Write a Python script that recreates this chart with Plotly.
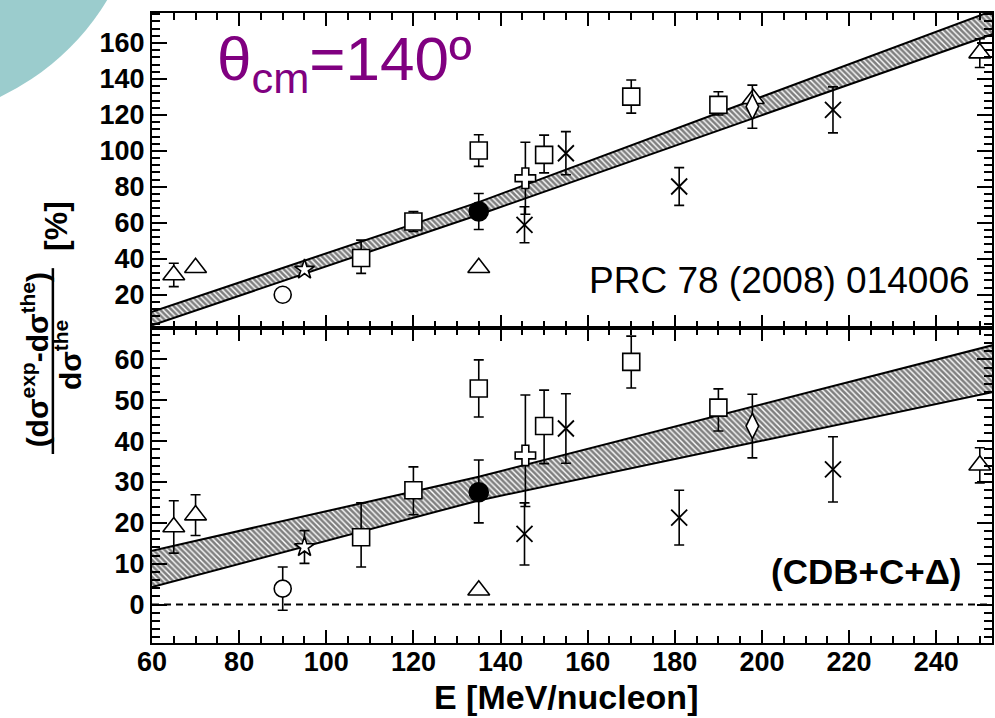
import plotly.graph_objects as go
from plotly.subplots import make_subplots

# ---------------- data: top panel ----------------
top_tri_E = [65, 70, 135, 198, 250]
top_tri_y = [31, 35, 35, 129, 154.4]
top_tri_err = [6.5, None, None, None, 8]

top_circ_E = [90]
top_circ_y = [20]

top_star_E = [95]
top_star_y = [34]

top_sq_E = [108, 120, 135, 150, 170, 190]
top_sq_y = [40.4, 60.7, 100.2, 97.8, 130.2, 125.6]
top_sq_up = [10, 5.5, 8.8, 11, 9.2, 7.3]
top_sq_dn = [8.5, 5.5, 8.8, 10, 9.2, 5.6]

top_fill_E = [135]
top_fill_y = [66.3]
top_fill_err = [10]

top_cross_E = [145.7]
top_cross_y = [84.8]
top_cross_err = [20]

top_x_E = [145.5, 155, 181, 216.3]
top_x_y = [58.9, 98.7, 80.2, 122.8]
top_x_err = [10, 12, 10.5, 12.8]

top_dia_E = [197.8]
top_dia_y = [124.6]
top_dia_err = [12]

top_band_E = [60, 135, 253]
top_band_lo = [3, 64.5, 165]
top_band_hi = [10.5, 71.5, 178]

# ---------------- data: bottom panel ----------------
bot_tri_E = [65, 70, 135, 250]
bot_tri_y = [19, 21.9, 3.5, 34.1]
bot_tri_err = [6.4, 5, None, 4.3]

bot_circ_E = [90]
bot_circ_y = [3.9]
bot_circ_err = [5.3]

bot_star_E = [95]
bot_star_y = [14.1]
bot_star_err = [4]

bot_sq_E = [108, 120, 135, 150, 170, 190]
bot_sq_y = [16.5, 28, 52.9, 43.7, 59.4, 48.2]
bot_sq_up = [8.4, 5.7, 7, 8.8, 6.3, 4.6]
bot_sq_dn = [7.3, 6, 7, 9.2, 6.4, 5.7]

bot_fill_E = [135]
bot_fill_y = [27.5]
bot_fill_up = [7.9]
bot_fill_dn = [7.5]

bot_cross_E = [145.7]
bot_cross_y = [36.5]
bot_cross_up = [14.8]
bot_cross_dn = [12.5]

bot_x_E = [145.5, 155, 181, 216.3]
bot_x_y = [17.3, 43.1, 21.3, 33.1]
bot_x_err = [7.6, 8.5, 6.7, 8]

bot_dia_E = [197.8]
bot_dia_y = [43.7]
bot_dia_err = [7.8]

bot_band_E = [60, 135, 253]
bot_band_lo = [4.3, 25.5, 52]
bot_band_hi = [13.2, 31.3, 63.5]

x_ticks = [60, 80, 100, 120, 140, 160, 180, 200, 220, 240]
top_yticks = [20, 40, 60, 80, 100, 120, 140, 160]
bot_yticks = [0, 10, 20, 30, 40, 50, 60]

FONT = "Liberation Sans"

fig = make_subplots(rows=2, cols=1, shared_xaxes=True, vertical_spacing=0)


def err(up, dn=None):
    if dn is None:
        dn = up
    return dict(type="data", symmetric=False, array=up, arrayminus=dn,
                color="black", thickness=1.6, width=5)


def add_band(E, lo, hi, row):
    fig.add_trace(go.Scatter(x=E, y=lo, mode="lines",
                             line=dict(color="black", width=2),
                             hoverinfo="skip", showlegend=False), row=row, col=1)
    fig.add_trace(go.Scatter(x=E, y=hi, mode="lines", fill="tonexty",
                             fillcolor="rgba(0,0,0,0)",
                             fillpattern=dict(shape="\\", fgcolor="black", bgcolor="white",
                                              size=4, solidity=0.65),
                             line=dict(color="black", width=2),
                             hoverinfo="skip", showlegend=False), row=row, col=1)


def add_pts(E, y, symbol, size, row, e=None, fill="white", lw=1.6):
    fig.add_trace(go.Scatter(
        x=E, y=y, mode="markers",
        marker=dict(symbol=symbol, size=size, color=fill,
                    line=dict(color="black", width=lw)),
        error_y=e, showlegend=False), row=row, col=1)


# top panel
add_band(top_band_E, top_band_lo, top_band_hi, 1)
add_pts(top_tri_E, top_tri_y, "triangle-up", 19, 1, err(top_tri_err))
add_pts(top_circ_E, top_circ_y, "circle", 17, 1)
add_pts(top_star_E, top_star_y, "star", 15, 1)
add_pts(top_sq_E, top_sq_y, "square", 17, 1, err(top_sq_up, top_sq_dn))
add_pts(top_cross_E, top_cross_y, "cross", 17, 1, err(top_cross_err))
add_pts(top_x_E, top_x_y, "x-thin", 16, 1, err(top_x_err), fill="black", lw=1.8)
add_pts(top_dia_E, top_dia_y, "diamond-tall", 18, 1, err(top_dia_err))
add_pts(top_fill_E, top_fill_y, "circle", 19, 1, err(top_fill_err), fill="black")

# bottom panel
add_band(bot_band_E, bot_band_lo, bot_band_hi, 2)
add_pts(bot_tri_E, bot_tri_y, "triangle-up", 19, 2, err(bot_tri_err))
add_pts(bot_circ_E, bot_circ_y, "circle", 17, 2, err(bot_circ_err))
add_pts(bot_star_E, bot_star_y, "star", 15, 2, err(bot_star_err))
add_pts(bot_sq_E, bot_sq_y, "square", 17, 2, err(bot_sq_up, bot_sq_dn))
add_pts(bot_cross_E, bot_cross_y, "cross", 17, 2, err(bot_cross_up, bot_cross_dn))
add_pts(bot_x_E, bot_x_y, "x-thin", 16, 2, err(bot_x_err), fill="black", lw=1.8)
add_pts(bot_dia_E, bot_dia_y, "diamond-tall", 18, 2, err(bot_dia_err))
add_pts(bot_fill_E, bot_fill_y, "circle", 19, 2, err(bot_fill_up, bot_fill_dn), fill="black")

tickfont = dict(family=FONT, size=27, color="black", weight="bold")
axis_common = dict(showline=True, linecolor="black", linewidth=2, mirror="ticks",
                   ticks="inside", tickcolor="black", tickwidth=2,
                   showgrid=False, zeroline=False, tickfont=tickfont, automargin=False)

fig.update_xaxes(range=[60, 252.8], tickvals=x_ticks, ticklen=13, ticklabelstandoff=-6,
                 minor=dict(dtick=5, tick0=60, ticklen=7, tickwidth=1.5, ticks="inside",
                            tickcolor="black", showgrid=False),
                 **axis_common)
fig.update_xaxes(showticklabels=False, row=1, col=1)
fig.update_xaxes(showticklabels=True, row=2, col=1)

fig.update_yaxes(range=[1.5, 176.7], tickvals=top_yticks, ticklen=15,
                 minor=dict(dtick=4, tick0=0, ticklen=8, tickwidth=1.5, ticks="inside",
                            tickcolor="black", showgrid=False),
                 row=1, col=1, **axis_common)
fig.update_yaxes(range=[-9.4, 67.7], tickvals=bot_yticks, ticklen=15,
                 minor=dict(dtick=2, tick0=0, ticklen=8, tickwidth=1.5, ticks="inside",
                            tickcolor="black", showgrid=False),
                 row=2, col=1, **axis_common)

# dashed zero line in bottom panel
fig.add_shape(type="line", xref="x2 domain", yref="y2", x0=0, x1=1, y0=0, y1=0,
              line=dict(color="black", width=2, dash="7px,5px"))

# teal decorative disc in the corner
fig.add_shape(type="circle", xref="paper", yref="paper",
              x0=-0.606, x1=-0.0107, y0=0.8286, y1=1.622,
              fillcolor="#9bcccd", line=dict(width=0), layer="below")

# y-axis title as a fraction
fig.add_shape(type="line", xref="paper", yref="paper",
              x0=-0.118, x1=-0.118, y0=0.30, y1=0.595,
              line=dict(color="black", width=2.5))

ann_font = dict(family=FONT, color="black", weight="bold")
fig.add_annotation(xref="paper", yref="paper", x=-0.139, y=0.449, textangle=-90,
                   xanchor="center", yanchor="middle",
                   text="(dσ<sup>exp</sup>-dσ<sup>the</sup>)", showarrow=False,
                   font=dict(size=30, **ann_font))
fig.add_annotation(xref="paper", yref="paper", x=-0.100, y=0.457, textangle=-90,
                   xanchor="center", yanchor="middle",
                   text="dσ<sup>the</sup>", showarrow=False,
                   font=dict(size=30, **ann_font))
fig.add_annotation(xref="paper", yref="paper", x=-0.1143, y=0.662, textangle=-90,
                   xanchor="center", yanchor="middle",
                   text="[%]", showarrow=False,
                   font=dict(size=32, **ann_font))

# x-axis title
fig.add_annotation(xref="paper", yref="paper", x=0.493, y=-0.0857,
                   xanchor="center", yanchor="middle",
                   text="E [MeV/nucleon]", showarrow=False,
                   font=dict(size=34, **ann_font))

# panel texts
fig.add_annotation(xref="paper", yref="paper", x=0.075, y=0.9206,
                   xanchor="left", yanchor="middle",
                   text="θ<sub>cm</sub>=140º", showarrow=False,
                   font=dict(family=FONT, size=62, color="#800080"))
fig.add_annotation(xref="paper", yref="paper", x=0.976, y=0.576,
                   xanchor="right", yanchor="middle",
                   text="PRC 78 (2008) 014006", showarrow=False,
                   font=dict(family=FONT, size=37, color="black"))
fig.add_annotation(xref="paper", yref="paper", x=0.9655, y=0.113,
                   xanchor="right", yanchor="middle",
                   text="(CDB+C+Δ)", showarrow=False,
                   font=dict(size=35, **ann_font))

fig.update_layout(width=995, height=718,
                  margin=dict(l=152, r=3, t=13, b=75),
                  paper_bgcolor="white", plot_bgcolor="white",
                  showlegend=False, font=dict(family=FONT))

fig.write_html("out.html", config={"displayModeBar": False},
               post_script="document.body.style.margin='0';")
